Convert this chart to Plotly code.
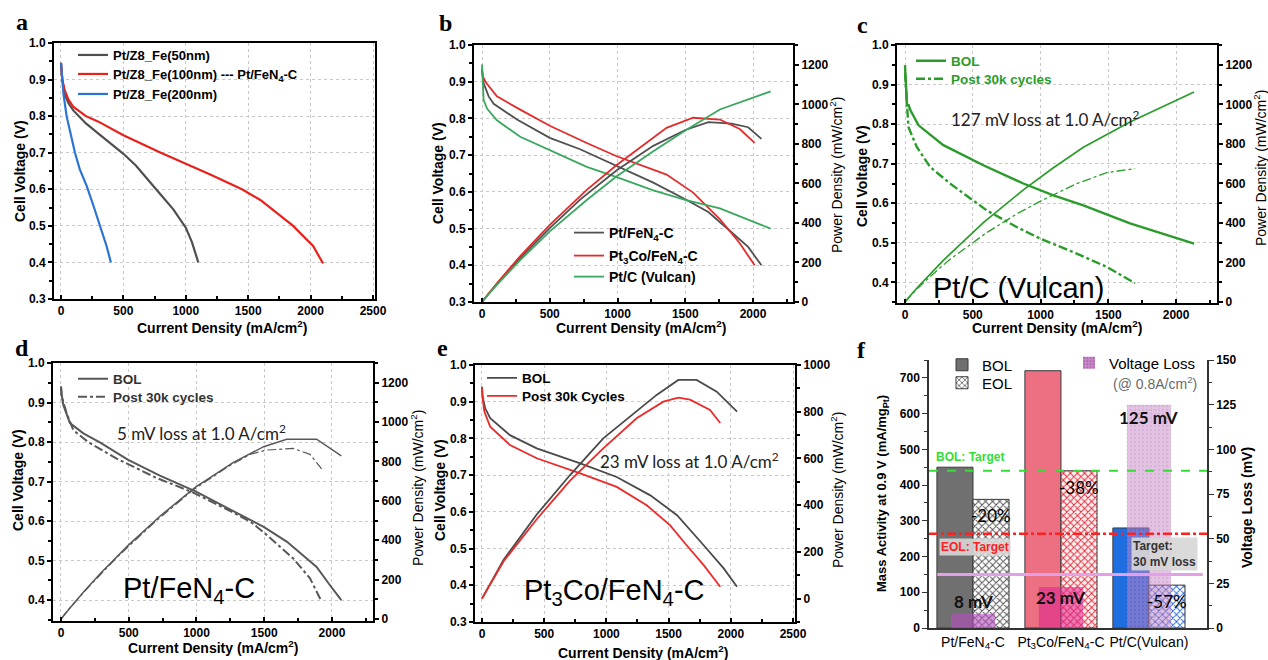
import plotly.graph_objects as go

W, H = 1268, 660
def fx(p): return p / W
def fy(p): return 1 - p / H

# ---------------- DATA ----------------
# (a) polarization curves, Pt/Z8_Fe with different particle size
a_50_x = [0, 10, 30, 60, 100, 200, 300, 400, 500, 600, 700, 750, 800, 900, 1000, 1050, 1100]
a_50_v = [0.945, 0.90, 0.86, 0.835, 0.815, 0.78, 0.752, 0.725, 0.697, 0.665, 0.627, 0.605, 0.585, 0.545, 0.495, 0.455, 0.40]
a_100_x = [0, 10, 30, 60, 100, 200, 300, 500, 800, 1000, 1200, 1450, 1600, 1860, 2020, 2100]
a_100_v = [0.946, 0.90, 0.87, 0.845, 0.825, 0.80, 0.785, 0.748, 0.70, 0.67, 0.64, 0.60, 0.57, 0.50, 0.445, 0.397]
a_200_x = [0, 10, 20, 45, 85, 112, 150, 205, 260, 312, 365, 400]
a_200_v = [0.946, 0.90, 0.86, 0.80, 0.735, 0.70, 0.655, 0.61, 0.555, 0.50, 0.445, 0.40]
a_names = ["Pt/Z8_Fe(50nm)", "Pt/Z8_Fe(100nm) --- Pt/FeN<sub>4</sub>-C", "Pt/Z8_Fe(200nm)"]

# (b) three catalysts, voltage and power density
b_names = ["Pt/FeN<sub>4</sub>-C", "Pt<sub>3</sub>Co/FeN<sub>4</sub>-C", "Pt/C (Vulcan)"]
b_ptfe_x = [0, 5, 12, 49, 86, 258, 500, 724, 994, 1264, 1500, 1670, 1841, 1964, 2062]
b_ptfe_v = [0.932, 0.91, 0.896, 0.86, 0.84, 0.797, 0.747, 0.716, 0.67, 0.625, 0.58, 0.545, 0.49, 0.45, 0.40]
b_ptfe_p = [0, 4.6, 10.8, 42, 72, 206, 374, 518, 666, 790, 870, 910, 902, 884, 825]
b_pt3co_x = [0, 5, 25, 110, 282, 500, 773, 994, 1362, 1558, 1755, 1902, 2012]
b_pt3co_v = [0.936, 0.915, 0.90, 0.86, 0.824, 0.78, 0.733, 0.697, 0.647, 0.598, 0.526, 0.46, 0.40]
b_pt3co_p = [0, 4.6, 22.5, 95, 232, 390, 567, 693, 881, 932, 923, 875, 805]
b_ptc_x = [0, 5, 12, 37, 110, 282, 500, 773, 994, 1264, 1500, 1755, 2130]
b_ptc_v = [0.947, 0.88, 0.85, 0.827, 0.795, 0.75, 0.714, 0.668, 0.64, 0.604, 0.578, 0.555, 0.50]
b_ptc_p = [0, 4.4, 10.2, 30.6, 87, 212, 357, 516, 636, 763, 867, 974, 1065]

# (c) Pt/C (Vulcan) BOL vs post 30k cycles
c_bol_x = [0, 8, 15, 25, 40, 100, 283, 578, 873, 1095, 1316, 1660, 2133]
c_bol_v = [0.949, 0.87, 0.845, 0.85, 0.835, 0.797, 0.747, 0.696, 0.65, 0.62, 0.595, 0.549, 0.498]
c_bol_p = [0, 7, 13, 21, 33, 80, 211, 402, 567, 679, 783, 911, 1062]
c_post_x = [0, 5, 12, 25, 86, 185, 332, 603, 824, 996, 1267, 1489, 1697]
c_post_v = [0.93, 0.905, 0.86, 0.793, 0.743, 0.692, 0.65, 0.582, 0.54, 0.511, 0.473, 0.439, 0.398]
c_post_p = [0, 4.5, 10, 20, 64, 128, 216, 351, 445, 509, 599, 654, 675]

# (d) Pt/FeN4-C BOL vs post 30k cycles
d_bol_x = [0, 5, 17, 66, 165, 287, 496, 730, 993, 1270, 1496, 1666, 1887, 1980, 2069]
d_bol_v = [0.941, 0.92, 0.894, 0.848, 0.822, 0.799, 0.755, 0.715, 0.675, 0.625, 0.585, 0.548, 0.484, 0.44, 0.40]
d_bol_p = [0, 4.6, 15, 56, 136, 229, 374, 522, 670, 794, 875, 913, 913, 871, 828]
d_post_x = [0, 5, 42, 91, 200, 411, 700, 976, 1250, 1400, 1518, 1715, 1838, 1924]
d_post_v = [0.94, 0.915, 0.873, 0.83, 0.80, 0.758, 0.71, 0.672, 0.625, 0.598, 0.565, 0.505, 0.455, 0.396]
d_post_p = [0, 4.6, 37, 76, 160, 312, 497, 656, 781, 837, 858, 866, 836, 762]

# (e) Pt3Co/FeN4-C BOL vs post 30k cycles
e_bol_x = [0, 5, 26, 66, 225, 440, 790, 1083, 1353, 1568, 1782, 1943, 2050]
e_bol_v = [0.941, 0.915, 0.882, 0.855, 0.809, 0.773, 0.732, 0.695, 0.645, 0.591, 0.509, 0.446, 0.396]
e_bol_px = [0, 174, 440, 708, 975, 1243, 1404, 1578, 1725, 1887, 2050]
e_bol_p = [0, 166, 360, 529, 686, 800, 872, 936, 936, 886, 800]
e_post_x = [0, 5, 19, 66, 225, 440, 790, 1083, 1324, 1511, 1645, 1782, 1915]
e_post_v = [0.937, 0.91, 0.873, 0.832, 0.782, 0.746, 0.705, 0.668, 0.618, 0.564, 0.509, 0.455, 0.396]
e_post_px = [0, 174, 440, 708, 975, 1243, 1458, 1578, 1672, 1833, 1915]
e_post_p = [0, 160, 340, 505, 643, 772, 843, 860, 852, 808, 752]

# (f) mass activity and voltage loss
f_cats = ["Pt/FeN<sub>4</sub>-C", "Pt<sub>3</sub>Co/FeN<sub>4</sub>-C", "Pt/C(Vulcan)"]
f_bol = [450, 720, 280]
f_eol = [360, 440, 120]
f_change = ["-20%", "-38%", "-57%"]
f_vloss = [8, 23, 125]
f_vloss_lbl = ["8 mV", "23 mV", "125 mV"]
f_bol_target = 440
f_eol_target = 264
f_vloss_target = 30

# ---------------- STYLE ----------------
FONT = "Liberation Sans"
TICKFONT = dict(family=FONT, size=12, color="black", weight="bold")
GRID = "#c9c9c9"

fig = go.Figure()

def line(x, y, xa, ya, color, width, dash="solid", name=None, legend=None):
    fig.add_trace(go.Scatter(x=x, y=y, xaxis=xa, yaxis=ya, mode="lines",
                             line=dict(color=color, width=width, dash=dash),
                             name=name, legend=legend, showlegend=legend is not None, hoverinfo="skip"))

# (a)
line(a_50_x, a_50_v, "x", "y", "#4f4f4f", 2.2, name=a_names[0], legend="legend")
line(a_100_x, a_100_v, "x", "y", "#e8211c", 2.2, name=a_names[1], legend="legend2")
line(a_200_x, a_200_v, "x", "y", "#2a74d6", 2.2, name=a_names[2], legend="legend3")

# (b)
GR, RD, GN = "#505050", "#e42b2b", "#3aa75e"
line(b_ptfe_x, b_ptfe_v, "x2", "y2", GR, 1.8, name=b_names[0], legend="legend4")
line(b_pt3co_x, b_pt3co_v, "x2", "y2", RD, 1.8, name=b_names[1], legend="legend5")
line(b_ptc_x, b_ptc_v, "x2", "y2", GN, 1.8, name=b_names[2], legend="legend6")
line(b_ptfe_x, b_ptfe_p, "x2", "y3", GR, 1.8)
line(b_pt3co_x, b_pt3co_p, "x2", "y3", RD, 1.8)
line(b_ptc_x, b_ptc_p, "x2", "y3", GN, 1.8)

# (c)
CG = "#2b9c2b"
line(c_bol_x, c_bol_v, "x3", "y4", CG, 2.4, name="BOL", legend="legend7")
line(c_post_x, c_post_v, "x3", "y4", CG, 2.4, dash="dashdot", name="Post 30k cycles", legend="legend8")
line(c_bol_x, c_bol_p, "x3", "y5", CG, 1.7)
line(c_post_x, c_post_p, "x3", "y5", CG, 1.3, dash="dashdot")

# (d)
DG = "#585858"
line(d_bol_x, d_bol_v, "x4", "y6", DG, 2.0, name="BOL", legend="legend9")
line(d_post_x, d_post_v, "x4", "y6", DG, 2.0, dash="dashdot", name="Post 30k cycles", legend="legend10")
line(d_bol_x, d_bol_p, "x4", "y7", DG, 1.5)
line(d_post_x, d_post_p, "x4", "y7", DG, 1.2, dash="dashdot")

# (e)
EG, ER = "#4a4a4a", "#ec2a2a"
line(e_bol_x, e_bol_v, "x5", "y8", EG, 1.8, name="BOL", legend="legend11")
line(e_post_x, e_post_v, "x5", "y8", ER, 1.8, name="Post 30k Cycles", legend="legend12")
line(e_bol_px, e_bol_p, "x5", "y9", EG, 1.8)
line(e_post_px, e_post_p, "x5", "y9", ER, 1.8)

# (f) bars
BW = 0.41
fig.add_trace(go.Bar(x=f_cats, y=f_bol, xaxis="x6", yaxis="y10", name="BOL", legend="legend13",
                     offset=-BW, width=BW,
                     marker=dict(color=["#707070", "#ec6f82", "#1f6ee0"], line=dict(color="#3a3a3a", width=1)),
                     hoverinfo="skip"))
fig.add_trace(go.Bar(x=f_cats, y=f_eol, xaxis="x6", yaxis="y10", name="EOL", legend="legend14",
                     offset=0, width=BW,
                     marker=dict(color="white", line=dict(color="#3a3a3a", width=1),
                                 pattern=dict(shape="x", fgcolor=["#555555", "#e02a3a", "#2a6ad8"],
                                              bgcolor=["white", "#fff0f0", "white"], size=5, solidity=0.35)),
                     hoverinfo="skip"))
vl_colors = ["#b84cc0", "#e0288c", "#c884c8"]
vl_opac = [0.6, 0.6, 0.5]
vl_pattern = ["", "", "."]
for i in range(3):
    fig.add_trace(go.Bar(x=[f_cats[i]], y=[f_vloss[i]], xaxis="x6", yaxis="y11",
                         name="Voltage Loss", legend="legend15", showlegend=(i == 2),
                         offset=-0.25, width=0.5,
                         marker=dict(color=vl_colors[i], opacity=vl_opac[i], line=dict(width=0),
                                     pattern=dict(shape=vl_pattern[i], fgcolor="#a868a8", bgcolor=vl_colors[i],
                                                  size=4, solidity=0.25)),
                         hoverinfo="skip"))

# ---------------- AXES ----------------
def xax(l, r, anchor, rng, mirror=True):
    return dict(domain=[fx(l), fx(r)], anchor=anchor, range=rng, tick0=0, dtick=500, automargin=False,
                showline=True, linecolor="black", linewidth=2, mirror=mirror,
                ticks="inside", ticklen=4, tickwidth=1.5, tickcolor="black", tickfont=TICKFONT,
                showgrid=True, gridcolor=GRID, griddash="dot", gridwidth=1, zeroline=False,
                minor=dict(ticks="inside", ticklen=3, tickwidth=1.5, dtick=250, tickcolor="black", showgrid=False))

def yax(t, b, anchor, rng, mirror=False):
    return dict(domain=[fy(b), fy(t)], anchor=anchor, range=rng, tick0=0.3, dtick=0.1, tickformat=".1f",
                automargin=False,
                showline=True, linecolor="black", linewidth=2, mirror=mirror,
                ticks="outside", ticklen=4, tickwidth=1.5, tickcolor="black", tickfont=TICKFONT,
                showgrid=True, gridcolor=GRID, griddash="dot", gridwidth=1, zeroline=False,
                minor=dict(ticks="outside", ticklen=3, tickwidth=1.5, dtick=0.05, tickcolor="black", showgrid=False))

def y2ax(overlay, anchor, rng, dtick=200):
    return dict(overlaying=overlay, side="right", anchor=anchor, range=rng, tick0=0, dtick=dtick,
                automargin=False,
                showline=True, linecolor="black", linewidth=2,
                ticks="outside", ticklen=4, tickwidth=1.5, tickcolor="black", tickfont=TICKFONT,
                showgrid=False, zeroline=False,
                minor=dict(ticks="outside", ticklen=3, tickwidth=1.5, dtick=dtick / 2, tickcolor="black"))

def leg(x, y, size, color="black", weight="bold"):
    # single-entry legend: x = left edge (text starts ~40px right), y = item centre
    return dict(x=fx(x), y=fy(y), xanchor="left", yanchor="middle", bgcolor="rgba(0,0,0,0)",
                borderwidth=0, font=dict(family=FONT, size=size, color=color, weight=weight),
                tracegroupgap=0, itemwidth=30)

fig.update_layout(
    template="none",
    width=W, height=H, margin=dict(l=0, r=0, t=0, b=0, autoexpand=False), autosize=False,
    paper_bgcolor="white", plot_bgcolor="white", barmode="overlay", showlegend=True,
    font=dict(family=FONT, color="black"),
    xaxis=xax(54, 375, "y", [-56, 2516]),
    yaxis=yax(43, 299, "x", [0.3, 1.0], mirror=True),
    xaxis2=xax(474, 793, "y2", [-59, 2295]),
    yaxis2=yax(45, 302, "x2", [0.3, 1.0]),
    yaxis3=y2ax("y2", "x2", [0, 1300]),
    xaxis3=xax(897, 1217, "y4", [-59, 2302]),
    yaxis4=yax(45, 303, "x3", [0.348, 1.0]),
    yaxis5=y2ax("y4", "x3", [-5, 1300]),
    xaxis4=xax(53, 373, "y6", [-59, 2303]),
    yaxis6=yax(363, 621, "x4", [0.347, 1.0]),
    yaxis7=y2ax("y6", "x4", [-10, 1300]),
    xaxis5=xax(475, 795, "y8", [-56, 2516]),
    yaxis8=yax(365, 622, "x5", [0.3, 1.0]),
    yaxis9=y2ax("y8", "x5", [-100, 1000]),
    xaxis6=dict(domain=[fx(929), fx(1207)], anchor="y10", range=[-0.5, 2.66], type="category",
                automargin=False,
                showline=True, linecolor="#333333", linewidth=1.5, ticks="",
                tickfont=dict(family=FONT, size=14, color="black"), showgrid=False, zeroline=False),
    yaxis10=dict(domain=[fy(628), fy(360)], anchor="x6", range=[0, 750], tick0=0, dtick=100,
                 automargin=False,
                 showline=True, linecolor="#333333", linewidth=1.5, ticks="outside", ticklen=5,
                 tickcolor="#333333", tickfont=TICKFONT, showgrid=False, zeroline=False,
                 minor=dict(ticks="outside", ticklen=3, dtick=50, tickcolor="#333333")),
    yaxis11=dict(overlaying="y10", side="right", anchor="x6", range=[0, 150], tick0=0, dtick=25,
                 automargin=False,
                 showline=True, linecolor="#333333", linewidth=1.5, ticks="outside", ticklen=5,
                 tickcolor="#333333", tickfont=TICKFONT, showgrid=False, zeroline=False,
                 minor=dict(ticks="outside", ticklen=3, dtick=12.5, tickcolor="#333333")),
    legend=leg(73, 55, 13),
    legend2=leg(73, 74, 13),
    legend3=leg(73, 94, 13),
    legend4=leg(569, 233, 14),
    legend5=leg(569, 256, 14),
    legend6=leg(569, 277, 14),
    legend7=leg(911, 61, 13.5, color=CG),
    legend8=leg(911, 79, 13.5, color=CG),
    legend9=leg(73, 379, 13.5, color="#333333"),
    legend10=leg(73, 397, 13.5, color="#333333"),
    legend11=leg(482, 378, 13.5),
    legend12=leg(482, 396, 13.5),
    legend13=leg(942, 365, 15, weight="normal"),
    legend14=leg(942, 383, 15, weight="normal"),
    legend15=leg(1069, 363, 15, weight="normal"),
)

# target lines in (f)
fig.add_shape(type="line", xref="x6 domain", x0=0, x1=1, yref="y10", y0=f_bol_target, y1=f_bol_target,
              line=dict(color="#33dd33", width=2, dash="dash"))
fig.add_shape(type="line", xref="x6 domain", x0=0, x1=1, yref="y10", y0=f_eol_target, y1=f_eol_target,
              line=dict(color="#ff2020", width=2.5, dash="dashdot"))
fig.add_shape(type="line", xref="x6 domain", x0=0.03, x1=0.985, yref="y11", y0=f_vloss_target, y1=f_vloss_target,
              line=dict(color="#e3a0e8", width=3))

# ---------------- TEXT ----------------
def txt(x, y, s, size=14, color="black", family=FONT, weight="normal", angle=0,
        xanchor="center", yanchor="middle", bg=None, align="center"):
    fig.add_annotation(x=fx(x), y=fy(y), xref="paper", yref="paper", text=s, showarrow=False,
                       font=dict(family=family, size=size, color=color, weight=weight),
                       textangle=angle, xanchor=xanchor, yanchor=yanchor, bgcolor=bg, align=align)

SERIF = "Liberation Serif"
for lab, x, y in [("a", 22, 22), ("b", 445, 23), ("c", 862, 25), ("d", 22, 348), ("e", 442, 348), ("f", 861, 350)]:
    txt(x, y, lab, size=24, family=SERIF, weight="bold")

CV = "Cell Voltage (V)"
CD = "Current Density (mA/cm<sup>2</sup>)"
PD = "Power Density (mW/cm<sup>2</sup>)"
for x, y in [(20, 171), (438, 173), (862, 176), (18, 480), (440, 490)]:
    txt(x, y, CV, size=14, weight="bold", angle=-90)
for x, y in [(222, 327), (641, 327), (1057, 327), (213, 647), (643, 652)]:
    txt(x, y, CD, size=14, weight="bold")
for x, y in [(836, 175), (1260, 168), (417, 488), (837, 490)]:
    txt(x, y, PD, size=14, angle=-90)

LF = "Lato"
txt(1045, 118, "127 mV loss at 1.0 A/cm<sup>2</sup>", size=17, family=LF, color="#222222")
txt(201, 433, "5 mV loss at 1.0 A/cm<sup>2</sup>", size=17, family=LF, color="#222222")
txt(690, 460, "23 mV loss at 1.0 A/cm<sup>2</sup>", size=17, family=LF, color="#222222")
txt(1018, 288, "Pt/C (Vulcan)", size=29)
txt(189, 590, "Pt/FeN<sub>4</sub>-C", size=29)
txt(614, 592, "Pt<sub>3</sub>Co/FeN<sub>4</sub>-C", size=29)

# (f) texts
txt(882, 494, "Mass Activity at 0.9 V (mA/mg<sub>Pt</sub>)", size=13, weight="bold", angle=-90)
txt(1247, 508, "Voltage Loss (mV)", size=14, weight="bold", angle=-90)
txt(1155, 383, "(@ 0.8A/cm<sup>2</sup>)", size=14, color="#6a6a6a")
txt(970, 457, "BOL: Target", size=12, color="#33dd33", weight="bold")
txt(975, 547, "EOL: Target", size=12, color="#ff2020", weight="bold", bg="rgba(214,214,214,0.9)")
txt(1164, 554, "Target:<br>30 mV loss", size=12, color="#333333", weight="bold",
    bg="rgba(214,214,214,0.9)", align="left")
for i in range(3):
    fig.add_annotation(x=f_cats[i], y=f_eol[i], xref="x6", yref="y10", text=f_change[i], showarrow=False,
                       xshift=0.205 * 88, yshift=-4, yanchor="top",
                       font=dict(family=LF, size=17, color="black"))
for (x, y), s in zip([(973, 601), (1060, 597), (1148, 417)], f_vloss_lbl):
    txt(x, y, s, size=17, family=LF, weight="bold", color="#111111")

fig.write_html("out.html", config={"displayModeBar": False, "responsive": False},
               post_script="document.body.style.margin='0';document.body.style.overflow='hidden';")
